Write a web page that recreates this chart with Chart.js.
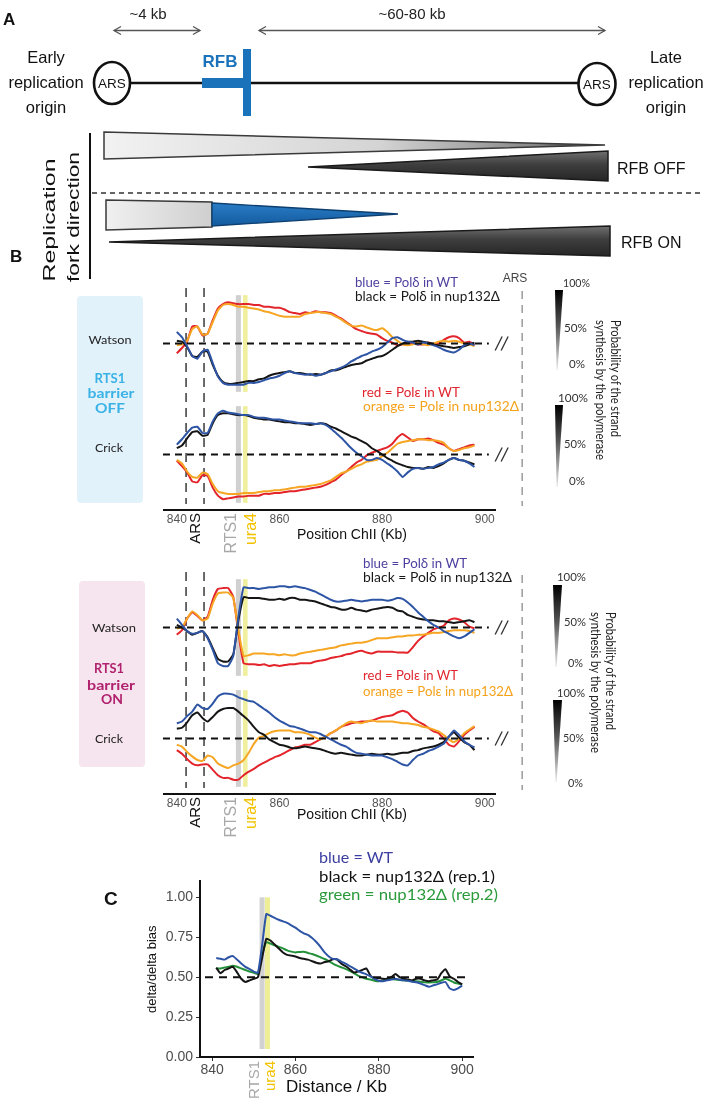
<!DOCTYPE html>
<html><head><meta charset="utf-8">
<script src="https://cdn.jsdelivr.net/npm/chart.js@4.4.1/dist/chart.umd.min.js"></script>
<style>
html,body{margin:0;padding:0;background:#fff}
body{width:703px;height:1102px;position:relative;overflow:hidden;font-family:'Liberation Sans',Arial,sans-serif}
canvas{position:absolute}
#ov{position:absolute;left:0;top:0;z-index:5}
</style></head><body>
<canvas id="cOff" width="380" height="290" style="left:150px;top:280px"></canvas>
<canvas id="cOn" width="380" height="290" style="left:150px;top:562px"></canvas>
<canvas id="cC" width="340" height="232" style="left:140px;top:870px"></canvas>

<svg id="ov" width="703" height="1102" font-family="'Liberation Sans',Arial,sans-serif">
<defs>
<linearGradient id="gL" gradientUnits="userSpaceOnUse" x1="104" y1="0" x2="605" y2="0"><stop offset="0" stop-color="#f2f2f2"/><stop offset="0.55" stop-color="#d4d4d4"/><stop offset="0.85" stop-color="#8a8a8a"/><stop offset="1" stop-color="#3a3a3a"/></linearGradient>
<linearGradient id="gL2" x1="0" y1="0" x2="1" y2="0"><stop offset="0" stop-color="#f0f0f0"/><stop offset="1" stop-color="#cfcfcf"/></linearGradient>
<linearGradient id="gD" x1="0" y1="0" x2="0" y2="1"><stop offset="0" stop-color="#707070"/><stop offset="0.45" stop-color="#3e3e3e"/><stop offset="1" stop-color="#262626"/></linearGradient>
<linearGradient id="gB" x1="0" y1="0" x2="0" y2="1"><stop offset="0" stop-color="#2a7dc6"/><stop offset="1" stop-color="#135a9e"/></linearGradient>
<linearGradient id="gW" x1="0" y1="0" x2="0" y2="1"><stop offset="0" stop-color="#000"/><stop offset="0.45" stop-color="#555"/><stop offset="1" stop-color="#e8e8e8"/></linearGradient>
</defs>

<!-- Panel A -->
<text x="3" y="25" font-weight="bold" font-size="17" fill="#111">A</text>
<text x="148" y="19" text-anchor="middle" font-size="15" fill="#222">~4 kb</text>
<text x="412" y="19" text-anchor="middle" font-size="15" fill="#222">~60-80 kb</text>
<g stroke="#555" stroke-width="1.3" fill="none">
<line x1="114" y1="30.5" x2="200" y2="30.5"/><polyline points="121,26.5 114,30.5 121,34.5"/><polyline points="193,26.5 200,30.5 193,34.5"/>
<line x1="259" y1="30.5" x2="605" y2="30.5"/><polyline points="266,26.5 259,30.5 266,34.5"/><polyline points="598,26.5 605,30.5 598,34.5"/>
</g>
<g font-size="16.5" fill="#111" text-anchor="middle">
<text x="46" y="63">Early</text><text x="46" y="88">replication</text><text x="46" y="113">origin</text>
<text x="666" y="63">Late</text><text x="666" y="88">replication</text><text x="666" y="113">origin</text>
</g>
<line x1="131" y1="83" x2="578" y2="83" stroke="#111" stroke-width="2.6"/>
<ellipse cx="112" cy="83" rx="18" ry="21" fill="#fff" stroke="#111" stroke-width="2.6"/>
<ellipse cx="597" cy="84" rx="18.5" ry="21" fill="#fff" stroke="#111" stroke-width="2.6"/>
<text x="112" y="88" text-anchor="middle" font-size="13.5" fill="#111">ARS</text>
<text x="597" y="89" text-anchor="middle" font-size="13.5" fill="#111">ARS</text>
<rect x="202" y="78" width="44" height="10" fill="#1a73ba"/>
<rect x="243" y="49" width="8" height="67" fill="#1a73ba"/>
<text x="220" y="67" text-anchor="middle" font-size="17" font-weight="bold" fill="#1a73ba">RFB</text>
<line x1="90" y1="133" x2="90" y2="279" stroke="#111" stroke-width="2"/>
<text transform="translate(55,220) rotate(-90)" text-anchor="middle" font-size="17" fill="#111" textLength="123" lengthAdjust="spacingAndGlyphs">Replication</text>
<text transform="translate(79,217) rotate(-90)" text-anchor="middle" font-size="17" fill="#111" textLength="130" lengthAdjust="spacingAndGlyphs">fork direction</text>
<line x1="92" y1="193" x2="703" y2="193" stroke="#333" stroke-width="1.4" stroke-dasharray="5,4"/>
<polygon points="104,132 605,145 104,159" fill="url(#gL)" stroke="#3a3a3a" stroke-width="1.5"/>
<polygon points="308,167 608,151 608,181" fill="url(#gD)" stroke="#1a1a1a" stroke-width="1.5"/>
<polygon points="106,200 212,202 212,227 106,230" fill="url(#gL2)" stroke="#3a3a3a" stroke-width="1.5"/>
<polygon points="212,203 398,214 212,226" fill="url(#gB)" stroke="#0d3f70" stroke-width="1.3"/>
<polygon points="109,242 610,226 610,256" fill="url(#gD)" stroke="#1a1a1a" stroke-width="1.5"/>
<text x="617" y="174" font-size="16" fill="#111">RFB OFF</text>
<text x="621" y="248" font-size="16" fill="#111">RFB ON</text>

<!-- Panel B -->
<text x="10" y="262" font-weight="bold" font-size="17" fill="#111">B</text>
<rect x="77" y="296" width="66" height="207" rx="4" fill="#e2f2fb"/>
<rect x="79" y="581" width="66" height="186" rx="4" fill="#f6e4ee"/>
<g font-family="Lato,'Open Sans',sans-serif" text-anchor="middle">
<text x="110" y="344" font-size="12" fill="#222" textLength="43" lengthAdjust="spacingAndGlyphs">Watson</text>
<text x="110" y="383" font-size="14" font-weight="bold" fill="#3ab2e6" textLength="31" lengthAdjust="spacingAndGlyphs">RTS1</text>
<text x="111" y="398" font-size="14" font-weight="bold" fill="#3ab2e6" textLength="47" lengthAdjust="spacingAndGlyphs">barrier</text>
<text x="110" y="413" font-size="14" font-weight="bold" fill="#3ab2e6" textLength="30" lengthAdjust="spacingAndGlyphs">OFF</text>
<text x="109" y="452" font-size="12" fill="#222" textLength="28" lengthAdjust="spacingAndGlyphs">Crick</text>
<text x="114" y="632" font-size="12" fill="#222" textLength="44" lengthAdjust="spacingAndGlyphs">Watson</text>
<text x="109" y="673" font-size="14" font-weight="bold" fill="#b0226e" textLength="30" lengthAdjust="spacingAndGlyphs">RTS1</text>
<text x="111" y="690" font-size="14" font-weight="bold" fill="#b0226e" textLength="48" lengthAdjust="spacingAndGlyphs">barrier</text>
<text x="112" y="704" font-size="14" font-weight="bold" fill="#b0226e" textLength="22" lengthAdjust="spacingAndGlyphs">ON</text>
<text x="109" y="743" font-size="12" fill="#222" textLength="28" lengthAdjust="spacingAndGlyphs">Crick</text>
</g>
<g font-family="Lato,'Open Sans',sans-serif" font-size="13">
<text x="355" y="287" fill="#4d3f9f" textLength="103" lengthAdjust="spacingAndGlyphs">blue = Polδ in WT</text>
<text x="355" y="301" fill="#1a1a1a" textLength="145" lengthAdjust="spacingAndGlyphs">black = Polδ in nup132Δ</text>
<text x="362" y="397" fill="#e0262f" textLength="98" lengthAdjust="spacingAndGlyphs">red = Polε in WT</text>
<text x="363" y="411" fill="#f5a21b" textLength="156" lengthAdjust="spacingAndGlyphs">orange = Polε in nup132Δ</text>
<text x="363" y="568" fill="#4d3f9f" textLength="104" lengthAdjust="spacingAndGlyphs">blue = Polδ in WT</text>
<text x="363" y="582" fill="#1a1a1a" textLength="149" lengthAdjust="spacingAndGlyphs">black = Polδ in nup132Δ</text>
<text x="363" y="680" fill="#e0262f" textLength="95" lengthAdjust="spacingAndGlyphs">red = Polε in WT</text>
<text x="363" y="696" fill="#f5a21b" textLength="150" lengthAdjust="spacingAndGlyphs">orange = Polε in nup132Δ</text>
</g>
<text x="515" y="282" text-anchor="middle" font-size="12" fill="#444">ARS</text>
<g font-size="14" fill="#111" text-anchor="middle">
<text x="352" y="539" textLength="110" lengthAdjust="spacingAndGlyphs">Position ChII (Kb)</text>
<text x="352" y="819" textLength="110" lengthAdjust="spacingAndGlyphs">Position ChII (Kb)</text>
</g>
<!-- probability wedges -->
<polygon points="555,290 563,290 557.6,370 556.6,370" fill="url(#gW)"/>
<polygon points="555,405 563,405 557.6,487 556.6,487" fill="url(#gW)"/>
<polygon points="553,585 562,585 556.6,667 555.6,667" fill="url(#gW)"/>
<polygon points="553,700 562,700 556.6,782 555.6,782" fill="url(#gW)"/>
<g font-family="Lato,'Open Sans',sans-serif" font-size="12" fill="#333">
<text x="563" y="287" textLength="27" lengthAdjust="spacingAndGlyphs">100%</text>
<text x="564" y="332" textLength="23" lengthAdjust="spacingAndGlyphs">50%</text>
<text x="569" y="368" textLength="16" lengthAdjust="spacingAndGlyphs">0%</text>
<text x="558" y="402" textLength="30" lengthAdjust="spacingAndGlyphs">100%</text>
<text x="564" y="448" textLength="22" lengthAdjust="spacingAndGlyphs">50%</text>
<text x="569" y="485" textLength="16" lengthAdjust="spacingAndGlyphs">0%</text>
<text x="557" y="581" textLength="29" lengthAdjust="spacingAndGlyphs">100%</text>
<text x="564" y="626" textLength="22" lengthAdjust="spacingAndGlyphs">50%</text>
<text x="568" y="667" textLength="15" lengthAdjust="spacingAndGlyphs">0%</text>
<text x="557" y="697" textLength="28" lengthAdjust="spacingAndGlyphs">100%</text>
<text x="563" y="742" textLength="21" lengthAdjust="spacingAndGlyphs">50%</text>
<text x="568" y="787" textLength="15" lengthAdjust="spacingAndGlyphs">0%</text>
<text transform="translate(611,320) rotate(90)" font-size="12.5" fill="#222" textLength="117" lengthAdjust="spacingAndGlyphs">Probability of the strand</text>
<text transform="translate(596,320) rotate(90)" font-size="12.5" fill="#222" textLength="140" lengthAdjust="spacingAndGlyphs">synthesis by the polymerase</text>
<text transform="translate(606,612) rotate(90)" font-size="12.5" fill="#222" textLength="118" lengthAdjust="spacingAndGlyphs">Probability of the strand</text>
<text transform="translate(591,612) rotate(90)" font-size="12.5" fill="#222" textLength="141" lengthAdjust="spacingAndGlyphs">synthesis by the polymerase</text>
</g>

<!-- Panel C -->
<text x="104" y="905" font-weight="bold" font-size="19" fill="#111">C</text>
<g font-family="Lato,'Open Sans',sans-serif" font-size="15.5">
<text x="319" y="863" fill="#3b3ea0" textLength="74" lengthAdjust="spacingAndGlyphs">blue = WT</text>
<text x="319" y="882" fill="#111" textLength="176" lengthAdjust="spacingAndGlyphs">black = nup132Δ (rep.1)</text>
<text x="319" y="900" fill="#2a9a3a" textLength="179" lengthAdjust="spacingAndGlyphs">green = nup132Δ (rep.2)</text>
</g>
</svg>

<script>
// ---------- DATA ----------
const posB = [840,841,842,843,844,845,846,847,848,849,850,851,852,853,854,855,856,857,858,859,860,861,862,863,864,865,866,867,868,869,870,871,872,873,874,875,876,877,878,879,880,881,882,883,884,885,886,887,888,889,890,891,892,893,894,895,896,897,898];
const bTicks = [840,860,880,900];

// RTS1 barrier OFF (probability %, 50 = no bias)
const offWatsonRed    = [39,45,52,69,69,59,61,76,89,94, 96,95,94,94,94,93,93,91,91,90, 90,88,85,84,83,85,84,86,85,85, 84,81,78,74,70,66,64,62,61,60, 56,53,51,48,49,51,50,49,49,51, 49,50,54,57,58,56,51,52,48];
const offWatsonOrange = [48,49,53,66,69,60,61,74,87,93, 94,93,91,91,90,89,88,86,85,83, 81,80,80,80,80,83,84,85,85,84, 83,80,77,73,70,69,70,68,66,65, 67,63,57,53,49,48,49,51,49,48, 50,52,53,52,53,52,50,49,47];
const offWatsonBlue   = [63,57,47,36,33,41,43,28,13,6, 4,4,4,4,6,6,7,9,11,12, 14,17,19,17,16,15,16,14,15,17, 19,21,23,26,30,33,36,38,41,43, 46,51,56,57,54,52,51,49,51,50, 48,46,43,41,40,43,48,50,48];
const offWatsonBlack  = [53,52,46,36,35,41,41,26,14,7, 5,5,6,7,8,8,10,11,14,16, 17,18,19,17,17,16,15,16,15,17, 20,20,22,24,26,27,28,31,33,35, 36,39,43,47,50,52,52,53,52,51, 49,48,47,46,45,46,47,49,51];
const offCrickBlue    = [61,67,74,80,81,74,74,87,96,99, 97,96,95,94,94,92,91,91,90,89, 89,88,87,86,85,85,85,84,85,83, 79,74,69,63,57,52,48,44,44,46, 44,40,36,31,25,30,34,35,34,35, 36,39,41,44,46,44,43,40,36];
const offCrickBlack   = [57,60,68,75,76,71,72,85,94,96, 96,95,94,94,93,91,90,89,89,88, 87,86,86,85,85,84,83,84,85,84, 81,79,76,73,70,68,65,62,57,54, 50,46,43,40,38,36,35,35,34,36, 35,37,40,44,46,44,43,41,39];
const offCrickRed     = [43,37,30,20,19,27,26,13,4,0, 1,2,3,3,4,4,4,6,6,7, 7,8,9,9,10,11,12,13,14,16, 19,22,27,31,36,41,44,49,52,54, 56,58,62,69,73,69,65,67,67,68, 66,63,61,57,54,56,58,60,61];
const offCrickOrange  = [44,40,31,25,24,30,28,17,9,7, 6,6,6,7,7,7,8,9,9,10, 10,11,12,13,14,14,15,16,17,19, 21,25,29,31,34,37,39,42,43,44, 48,52,57,62,64,65,66,67,67,66, 66,65,63,57,54,55,57,58,60];

// RTS1 barrier ON
const onWatsonRed     = [42,47,60,67,63,58,62,81,93,94, 94,84,44,10,9,9,8,9,7,8, 7,8,9,9,10,10,10,12,13,14, 16,17,18,20,21,23,24,22,21,23, 23,23,23,22,22,22,28,35,40,44, 48,50,52,58,60,59,56,51,49];
const onWatsonOrange  = [49,50,60,68,64,58,60,77,88,89, 89,83,47,18,19,21,21,21,20,20, 19,20,19,19,21,22,23,24,25,26, 27,28,30,31,32,33,33,34,36,38, 38,38,39,40,40,41,41,42,42,43, 44,44,45,46,47,47,47,46,44];
const onWatsonBlue    = [60,53,46,43,44,46,38,25,10,7, 7,18,62,95,94,94,93,94,95,95, 96,96,95,96,95,94,92,90,87,84, 81,79,79,80,81,80,79,80,81,81, 81,80,81,83,82,78,73,67,62,57, 53,50,46,43,40,38,40,44,48];
const onWatsonBlack   = [53,50,46,42,44,46,39,27,15,12, 12,20,58,84,83,83,83,82,81,81, 82,81,83,83,81,81,80,79,77,75, 73,72,70,70,72,70,69,68,70,71, 72,73,72,69,68,64,62,60,59,58, 58,57,57,56,55,56,57,58,56];
const onCrickBlue     = [67,69,75,80,88,84,83,89,97,100, 100,99,96,94,92,91,87,83,79,74, 70,67,64,63,61,59,57,57,55,52, 49,46,43,41,37,34,33,32,31,31, 31,29,27,24,21,20,26,31,33,36, 38,41,44,52,59,54,47,43,40];
const onCrickBlack    = [61,62,68,76,79,73,69,74,80,83, 84,84,80,75,70,63,57,54,49,46, 43,42,40,39,40,41,40,39,38,36, 34,33,34,33,32,31,31,32,33,32, 32,33,32,33,34,34,36,37,39,40, 41,43,46,52,57,51,46,43,37];
const onCrickRed      = [37,33,27,22,20,21,21,15,9,6, 6,4,4,9,13,16,20,23,26,29, 31,34,37,40,41,43,43,46,49,52, 56,59,63,65,67,68,69,69,70,72, 74,75,76,79,81,79,73,69,66,62, 58,56,50,43,41,47,54,59,63];
const onCrickOrange   = [43,41,35,30,26,25,31,29,22,19, 17,20,22,26,34,44,51,53,56,58, 59,59,59,57,57,56,54,51,49,52, 56,59,63,67,69,68,67,69,70,69, 69,69,69,68,67,67,66,65,63,62, 60,58,54,49,46,50,56,60,64];

// Panel C
const posC = [841,842,843,844,845,846,847,848,849,850,851,852,853,854,855,856,857,858,859,860,861,862,863,864,865,866,867,868,869,870,871,872,873,874,875,876,877,878,879,880,881,882,883,884,885,886,887,888,889,890,891,892,893,894,895,896,897,898,899,900];
const cXTicks = [840,860,880,900];
const cYTicks = [0,0.25,0.5,0.75,1];
const cBlue  = [0.62,0.615,0.61,0.625,0.632,0.61,0.585,0.565,0.55,0.535, 0.528,0.70,0.895,0.885,0.872,0.86,0.85,0.84,0.825,0.81, 0.79,0.775,0.765,0.745,0.72,0.69,0.655,0.63,0.615,0.612, 0.598,0.585,0.57,0.555,0.54,0.528,0.518,0.505,0.49,0.478, 0.475,0.48,0.485,0.49,0.485,0.48,0.478,0.472,0.468,0.46, 0.45,0.44,0.448,0.455,0.465,0.47,0.43,0.42,0.43,0.448];
const cBlack = [0.56,0.525,0.545,0.555,0.565,0.53,0.49,0.47,0.48,0.49, 0.50,0.62,0.74,0.73,0.705,0.68,0.655,0.64,0.635,0.63, 0.62,0.615,0.61,0.6,0.59,0.585,0.595,0.6,0.612,0.61, 0.585,0.57,0.55,0.53,0.535,0.545,0.555,0.51,0.49,0.495, 0.49,0.49,0.5,0.52,0.5,0.49,0.485,0.48,0.49,0.49, 0.48,0.475,0.48,0.485,0.525,0.55,0.505,0.49,0.47,0.455];
const cGreen = [0.555,0.555,0.56,0.565,0.572,0.565,0.555,0.545,0.535,0.528, 0.52,0.64,0.72,0.71,0.70,0.69,0.68,0.668,0.66,0.655, 0.658,0.66,0.652,0.645,0.636,0.625,0.614,0.6,0.585,0.572, 0.562,0.552,0.54,0.525,0.51,0.5,0.49,0.485,0.478,0.475, 0.48,0.49,0.488,0.486,0.483,0.48,0.478,0.474,0.474,0.472, 0.468,0.466,0.468,0.47,0.48,0.49,0.48,0.467,0.46,0.455];

// landmark positions (kb)
const RTS1_KB = 852, URA4_KB = 853.3, ARS_KB = [841.8, 845.3], LATE_ARS_KB = 907.3;

// ---------- RENDER ----------
Chart.defaults.font.family = "'Liberation Sans', Arial, sans-serif";
const COL = {blue:'#2e55a5', black:'#151515', red:'#e3242b', orange:'#f6a623', green:'#23903a'};
const xy = (xs, ys) => xs.map((x, i) => ({x, y: ys[i]}));

function strandDecor(geo) {
  return {
    id: 'strandDecor',
    beforeDatasetsDraw(chart) {
      const {ctx, chartArea: a, scales: {x}} = chart;
      ctx.save();
      for (const id of ['yW', 'yC']) {
        const s = chart.scales[id];
        const t = s.getPixelForValue(104), b = s.getPixelForValue(-4);
        ctx.fillStyle = 'rgba(200,200,200,0.85)';
        ctx.fillRect(x.getPixelForValue(RTS1_KB) - 2.5, t, 5, b - t);
        ctx.fillStyle = 'rgba(236,236,140,0.85)';
        ctx.fillRect(x.getPixelForValue(URA4_KB) - 2, t, 4.5, b - t);
      }
      ctx.strokeStyle = '#3a3a3a'; ctx.lineWidth = 1.5; ctx.setLineDash([9, 6]);
      for (const k of ARS_KB) {
        const px = x.getPixelForValue(k);
        ctx.beginPath(); ctx.moveTo(px, a.top); ctx.lineTo(px, a.bottom - 6); ctx.stroke();
      }
      ctx.restore();
    },
    afterDatasetsDraw(chart) {
      const {ctx, scales: {x}} = chart;
      ctx.save();
      ctx.strokeStyle = '#111'; ctx.lineWidth = 2; ctx.setLineDash([7, 5]);
      for (const id of ['yW', 'yC']) {
        const y = chart.scales[id].getPixelForValue(50);
        ctx.beginPath(); ctx.moveTo(x.getPixelForValue(837.3), y); ctx.lineTo(x.getPixelForValue(900.8), y); ctx.stroke();
      }
      ctx.restore();
    },
    afterDraw(chart) {
      const {ctx, chartArea: a, scales: {x}} = chart;
      ctx.save();
      ctx.strokeStyle = '#333'; ctx.lineWidth = 1.3;
      for (const id of ['yW', 'yC']) {
        const y = chart.scales[id].getPixelForValue(50);
        const px = x.getPixelForValue(903.3);
        for (const dx of [-3, 3]) {
          ctx.beginPath(); ctx.moveTo(px + dx - 3.5, y + 7); ctx.lineTo(px + dx + 3.5, y - 7); ctx.stroke();
        }
      }
      ctx.strokeStyle = '#9a9a9a'; ctx.lineWidth = 1.5; ctx.setLineDash([8, 6]);
      const lx = x.getPixelForValue(LATE_ARS_KB);
      ctx.beginPath(); ctx.moveTo(lx, a.top + 3); ctx.lineTo(lx, a.bottom - 4); ctx.stroke();
      ctx.setLineDash([]);
      const labs = [['ARS', 843.7, '#111', 15], ['RTS1', 850.6, '#a8a8a8', 16], ['ura4', 854.6, '#f2c200', 16]];
      ctx.textAlign = 'right'; ctx.textBaseline = 'middle';
      for (const [t, k, c, fs] of labs) {
        ctx.save();
        ctx.translate(x.getPixelForValue(k), a.bottom + 3);
        ctx.rotate(-Math.PI / 2);
        ctx.font = fs + "px 'Liberation Sans', Arial, sans-serif";
        ctx.fillStyle = c; ctx.fillText(t, 0, 0);
        ctx.restore();
      }
      ctx.restore();
    }
  };
}

function makeStrandChart(id, s, geo) {
  const ds = [];
  const add = (arr, col, ax) => ds.push({data: xy(posB, arr), borderColor: col, yAxisID: ax, borderWidth: 2, pointRadius: 0, tension: 0.15, fill: false});
  add(s.wBlue, COL.blue, 'yW'); add(s.wBlack, COL.black, 'yW'); add(s.wOrange, COL.orange, 'yW'); add(s.wRed, COL.red, 'yW');
  add(s.cBlue, COL.blue, 'yC'); add(s.cBlack, COL.black, 'yC'); add(s.cOrange, COL.orange, 'yC'); add(s.cRed, COL.red, 'yC');
  return new Chart(document.getElementById(id), {
    type: 'line',
    data: {datasets: ds},
    options: {
      responsive: false, animation: false, events: [],
      layout: {padding: {left: 14, right: 35, top: geo.top, bottom: 0}},
      plugins: {legend: {display: false}, tooltip: {enabled: false}},
      scales: {
        x: {type: 'linear', min: 837.5, max: 902,
            afterBuildTicks: sc => { sc.ticks = bTicks.map(v => ({value: v})); },
            ticks: {color: '#555', font: {size: 12}, padding: 2, maxRotation: 0, autoSkip: false},
            grid: {display: false, drawTicks: false},
            border: {display: true, color: '#111', width: 2},
            afterFit: sc => { sc.height = geo.xh; }},
        yW: {type: 'linear', position: 'right', stack: 'strand', stackWeight: 1, min: -12, max: 112, display: false},
        yC: {type: 'linear', position: 'right', stack: 'strand', stackWeight: 1, min: -12, max: 112, display: false}
      }
    },
    plugins: [strandDecor(geo)]
  });
}

makeStrandChart('cOff', {wRed: offWatsonRed, wOrange: offWatsonOrange, wBlue: offWatsonBlue, wBlack: offWatsonBlack,
  cRed: offCrickRed, cOrange: offCrickOrange, cBlue: offCrickBlue, cBlack: offCrickBlack}, {top: 8, xh: 60});
makeStrandChart('cOn', {wRed: onWatsonRed, wOrange: onWatsonOrange, wBlue: onWatsonBlue, wBlack: onWatsonBlack,
  cRed: onCrickRed, cOrange: onCrickOrange, cBlue: onCrickBlue, cBlack: onCrickBlack}, {top: 10, xh: 58});

// Panel C
const cDecor = {
  id: 'cDecor',
  beforeDatasetsDraw(chart) {
    const {ctx, scales: {x, y}} = chart;
    ctx.save();
    const t = y.getPixelForValue(1.0), b = y.getPixelForValue(0.05);
    ctx.fillStyle = 'rgba(205,205,205,0.9)';
    ctx.fillRect(x.getPixelForValue(RTS1_KB) - 2.5, t, 5, b - t);
    ctx.fillStyle = 'rgba(236,236,140,0.9)';
    ctx.fillRect(x.getPixelForValue(URA4_KB) - 2.5, t, 5, b - t);
    ctx.restore();
  },
  afterDatasetsDraw(chart) {
    const {ctx, scales: {x, y}} = chart;
    ctx.save();
    ctx.strokeStyle = '#111'; ctx.lineWidth = 2; ctx.setLineDash([8, 6]);
    const py = y.getPixelForValue(0.5);
    ctx.beginPath(); ctx.moveTo(x.getPixelForValue(838.3), py); ctx.lineTo(x.getPixelForValue(901.5), py); ctx.stroke();
    ctx.restore();
  },
  afterDraw(chart) {
    const {ctx, chartArea: a, scales: {x}} = chart;
    ctx.save();
    ctx.textAlign = 'right'; ctx.textBaseline = 'middle';
    for (const [t, k, c] of [['RTS1', 850.3, '#a8a8a8'], ['ura4', 854.1, '#f2c200']]) {
      ctx.save();
      ctx.translate(x.getPixelForValue(k), a.bottom + 4);
      ctx.rotate(-Math.PI / 2);
      ctx.font = "15px 'Liberation Sans', Arial, sans-serif";
      ctx.fillStyle = c; ctx.fillText(t, 0, 0);
      ctx.restore();
    }
    ctx.restore();
  }
};
const axisCommon = {
  grid: {drawOnChartArea: false, drawTicks: true, tickLength: 4, color: '#333', lineWidth: 1},
  border: {display: true, color: '#111', width: 2}
};
new Chart(document.getElementById('cC'), {
  type: 'line',
  data: {datasets: [
    {label: 'WT', data: xy(posC, cBlue), borderColor: COL.blue, borderWidth: 2, pointRadius: 0, tension: 0.15},
    {label: 'nup132Δ (rep.1)', data: xy(posC, cBlack), borderColor: COL.black, borderWidth: 2, pointRadius: 0, tension: 0.15},
    {label: 'nup132Δ (rep.2)', data: xy(posC, cGreen), borderColor: COL.green, borderWidth: 2, pointRadius: 0, tension: 0.15}
  ]},
  options: {
    responsive: false, animation: false, events: [],
    layout: {padding: {left: 0, right: 7, top: 7, bottom: 0}},
    plugins: {legend: {display: false}, tooltip: {enabled: false}},
    scales: {
      x: Object.assign({type: 'linear', min: 837.1, max: 902.6,
        afterBuildTicks: sc => { sc.ticks = cXTicks.map(v => ({value: v})); },
        ticks: {color: '#4d4d4d', font: {size: 14}, padding: 1, maxRotation: 0, autoSkip: false},
        title: {display: true, text: 'Distance / Kb', color: '#111', font: {size: 17}, padding: {top: 0, bottom: 4}},
        afterFit: sc => { sc.height = 45; }}, axisCommon),
      y: Object.assign({type: 'linear', min: 0, max: 1.1,
        afterBuildTicks: sc => { sc.ticks = cYTicks.map(v => ({value: v})); },
        ticks: {color: '#4d4d4d', font: {size: 14}, padding: 3, callback: v => Number(v).toFixed(2)},
        title: {display: true, text: 'delta/delta bias', color: '#111', font: {size: 13}, padding: {top: 5, bottom: 0}},
        afterFit: sc => { sc.width = 60; }}, axisCommon)
    }
  },
  plugins: [cDecor]
});
</script>
</body></html>
